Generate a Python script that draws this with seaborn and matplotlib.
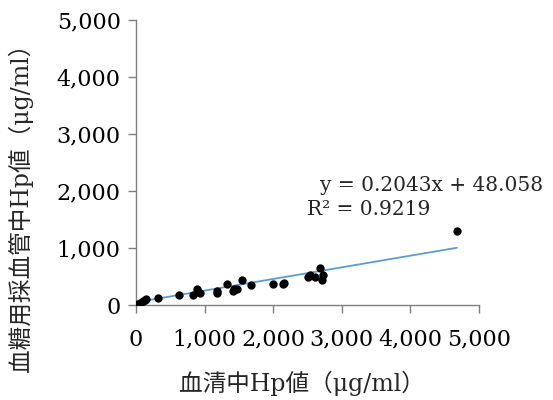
import matplotlib
matplotlib.use("Agg")
import matplotlib.pyplot as plt
import matplotlib.ticker as mticker
import seaborn as sns
import pandas as pd

# Serum Hp (x) vs. Hp in blood-glucose sampling tube (y), µg/ml
serum_hp = [34, 58, 107, 131, 146, 326, 632, 836, 884, 909, 933, 1176, 1186,
            1322, 1409, 1433, 1467, 1550, 1676, 1992, 2138, 2162, 2512, 2536,
            2609, 2682, 2706, 2731, 4680]
tube_hp = [20, 40, 70, 88, 110, 123, 170, 175, 275, 234, 205, 251, 205,
           362, 246, 275, 287, 439, 345, 362, 368, 380, 485, 526,
           497, 644, 438, 526, 1300]

slope = 0.2043
intercept = 48.058
r_squared = 0.9219

ticks = [0, 1000, 2000, 3000, 4000, 5000]

sns.set_theme(style="white")
plt.rcParams["font.family"] = ["DejaVu Serif", "Noto Sans CJK JP"]

df = pd.DataFrame({"x": serum_hp, "y": tube_hp})
x_end = [min(serum_hp), max(serum_hp)]
fit = pd.DataFrame({"x": x_end, "y": [slope * v + intercept for v in x_end]})

fig = plt.figure(figsize=(5.53, 4.0), dpi=100)
ax = fig.add_axes([0.246, 0.2375, 0.62, 0.7125])

sns.lineplot(data=fit, x="x", y="y", ax=ax, color="#5b9bd5", linewidth=1.3)
sns.scatterplot(data=df, x="x", y="y", ax=ax, color="black", s=36,
                edgecolor="black", linewidth=0, zorder=3)

ax.set_xlim(0, 5000)
ax.set_ylim(0, 5000)
ax.set_xticks(ticks)
ax.set_yticks(ticks)
fmt = mticker.FuncFormatter(lambda v, p: f"{int(v):,}")
ax.xaxis.set_major_formatter(fmt)
ax.yaxis.set_major_formatter(fmt)

for side in ("top", "right"):
    ax.spines[side].set_visible(False)
for side in ("left", "bottom"):
    ax.spines[side].set_color("#7f7f7f")
    ax.spines[side].set_linewidth(1.0)

ax.tick_params(axis="both", which="major", direction="out", length=6,
               width=1.0, color="#7f7f7f", labelsize=16, labelcolor="black",
               bottom=True, left=True)
ax.tick_params(axis="x", pad=11)
ax.tick_params(axis="y", pad=5)

ax.set_xlabel("血清中Hp値（μg/ml）", fontsize=17)
ax.set_ylabel("血糖用採血管中Hp値（μg/ml）", fontsize=17)
ax.xaxis.label.set_va("center")
ax.yaxis.label.set_va("center")
ax.xaxis.set_label_coords(0.484, -0.274)
ax.yaxis.set_label_coords(-0.338, 0.361)

ax.text(2682, 2105, f"y = {slope}x + {intercept}", fontsize=14.5,
        ha="left", va="center")
ax.text(2493, 1667, f"R² = {r_squared}", fontsize=14.5,
        ha="left", va="center")

fig.savefig("out.png", dpi=100)
